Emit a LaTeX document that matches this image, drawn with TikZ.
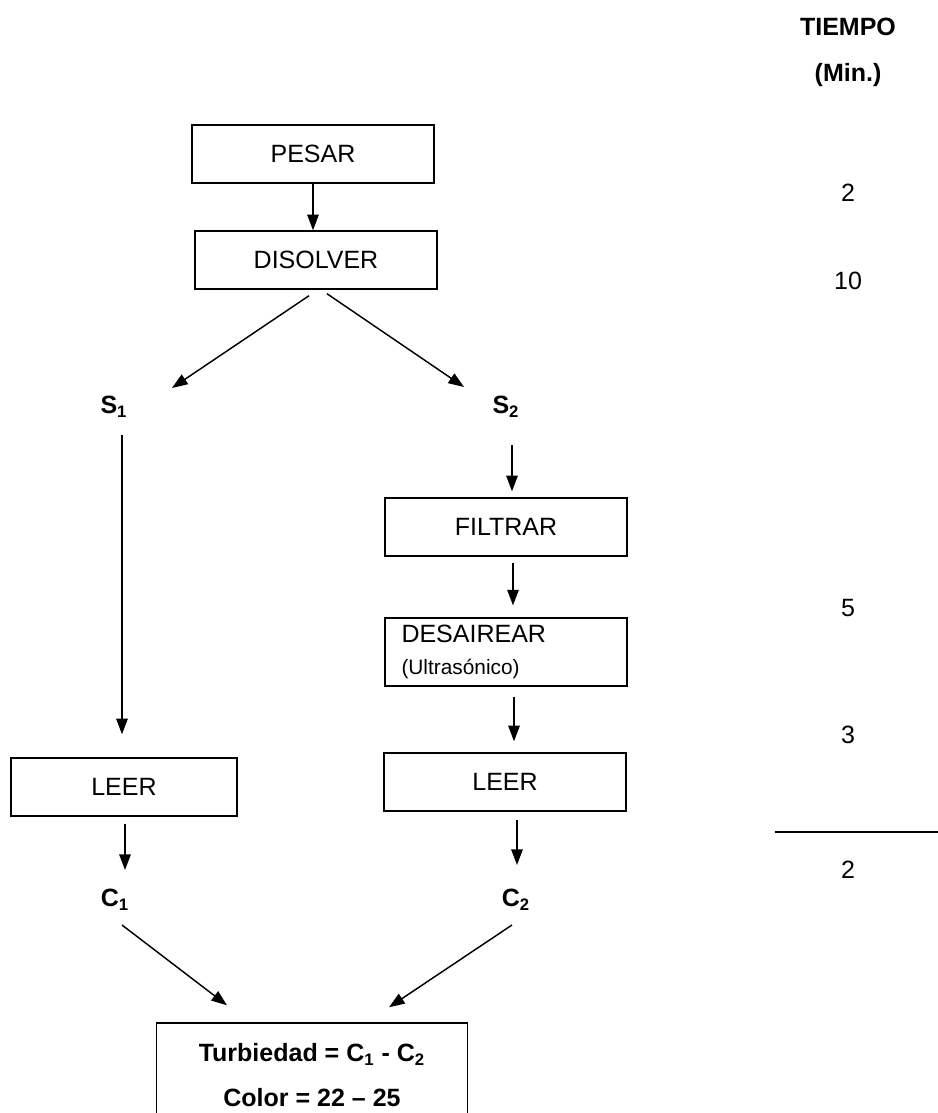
\documentclass[tikz,border=0pt]{standalone}
\usepackage{fontspec}
\setmainfont{Liberation Sans}
\usepackage{tikz}
\usetikzlibrary{arrows.meta,positioning,calc}
\newcommand{\pxu}{0.48pt}

\begin{document}
\begin{tikzpicture}[
    x=0.48pt, y=-0.48pt,
    font=\fontsize{12}{14.4}\selectfont,
    box/.style={draw, line width=0.7pt, minimum width=242*\pxu, minimum height=58*\pxu, align=center},
    arr/.style={-{Triangle[length=7.5pt, width=5.5pt]}, line width=0.7pt},
    lbl/.style={font=\fontsize{12}{14.4}\selectfont\bfseries},
]
\useasboundingbox (0,0) rectangle (938,1113);

% ===== main column =====
\node[box] (pesar) at (313,154) {PESAR};
\node[box] (disolver) at (316,260) {DISOLVER};

\node[lbl] (s1) at (114,407) {S\textsubscript{1}};
\node[lbl] (s2) at (506,407) {S\textsubscript{2}};

% right branch
\node[box] (filtrar) at (506,527) {FILTRAR};
\node[box, align=left, text width=209*\pxu, inner xsep=16*\pxu] (desairear) at (506,652)
    {DESAIREAR\\[1pt]{\fontsize{10}{12}\selectfont (Ultrasónico)}};
\node[box] (leer2) at (505,782) {LEER};

% left branch
\node[box, minimum width=226*\pxu] (leer1) at (124,787) {LEER};

\node[lbl] (c1) at (115,900) {C\textsubscript{1}};
\node[lbl] (c2) at (516,900) {C\textsubscript{2}};

% result (open at the bottom edge)
\node[box, minimum width=311*\pxu, minimum height=104*\pxu, font=\fontsize{12}{14.4}\selectfont\bfseries] (result) at (312,1075)
    {Turbiedad = C\textsubscript{1} - C\textsubscript{2}\\[7pt]Color = 22 -- 25};

% ===== arrows =====
\draw[arr] (pesar.south) -- (pesar.south |- disolver.north);
\draw[arr] ($(disolver.south)+(-7,6)$) -- ($(s1)+(58,-19)$);
\draw[arr] ($(disolver.south)+(11,4)$) -- ($(s2)+(-42,-20)$);

\draw[arr] ($(s1)+(8,28)$) -- ($(leer1.north)+(-2,-23)$);
\draw[arr] ($(s2)+(6,38)$) -- ($(filtrar.north)+(6,-6)$);
\draw[arr] ($(filtrar.south)+(7,6)$) -- ($(desairear.north)+(7,-12)$);
\draw[arr] ($(desairear.south)+(8,10)$) -- ($(leer2.north)+(9,-11)$);

\draw[arr] ($(leer1.south)+(1,7)$) -- ($(c1)+(10,-30)$);
\draw[arr] ($(leer2.south)+(12,8)$) -- ($(c2)+(1,-35)$);

\draw[arr] ($(c1)+(7,25)$) -- ($(result.north)+(-85,-17)$);
\draw[arr] ($(c2)+(-4,25)$) -- ($(result.north)+(77,-15)$);

% ===== time column =====
\node[lbl] (tiempo) at (848,27) {TIEMPO};
\node[lbl] (mins) at (848,75) {(Min.)};
\node (t1) at (848,193) {2};
\node (t2) at (848,281) {10};
\node (t3) at (848,608) {5};
\node (t4) at (848,735) {3};
\coordinate (sumL) at (775,832);
\coordinate (sumR) at (938,832);
\draw[line width=0.7pt] (sumL) -- (sumR);
\node (total) at (848,870) {2};

\end{tikzpicture}
\end{document}
